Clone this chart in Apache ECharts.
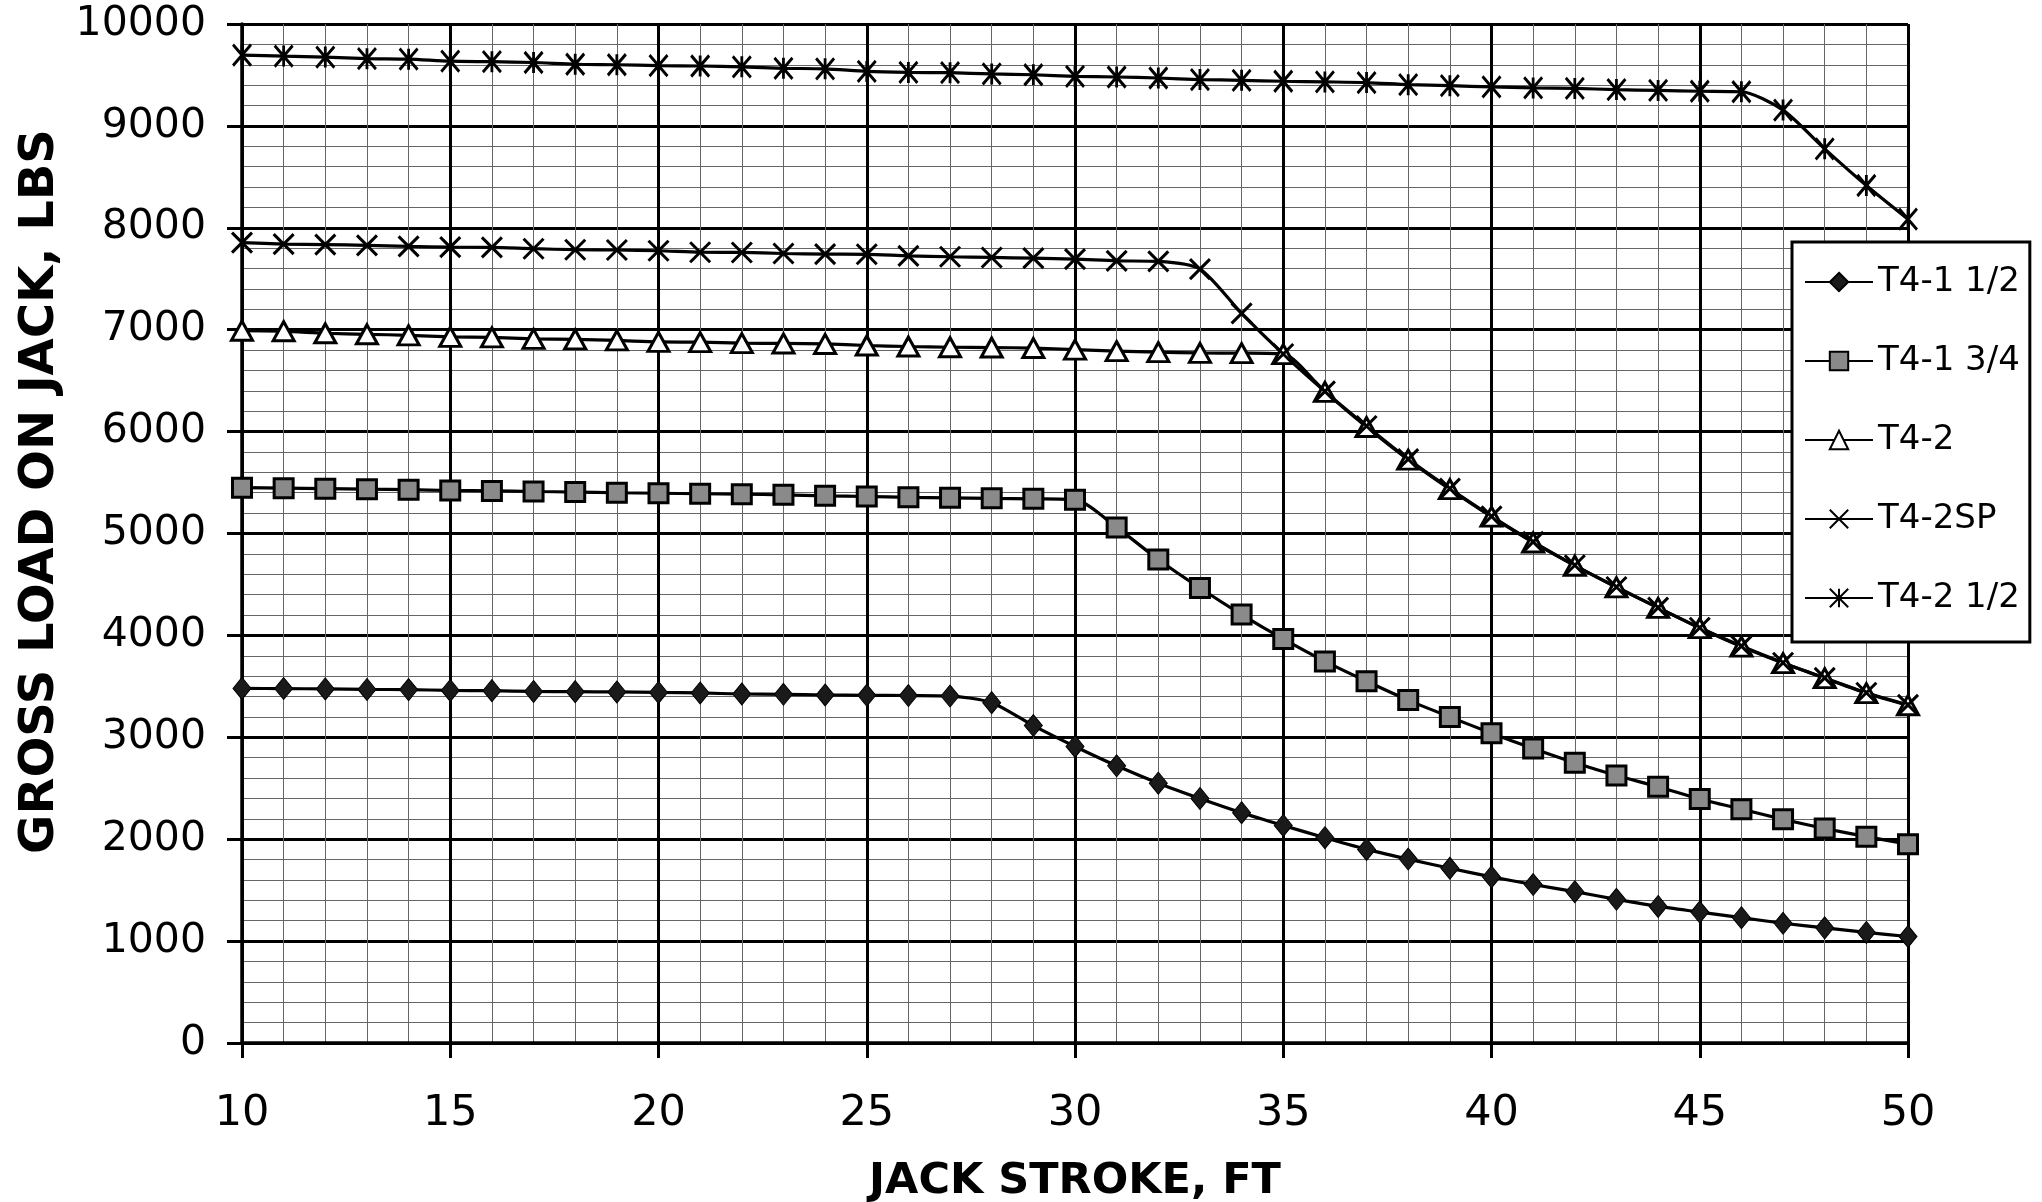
<!DOCTYPE html>
<html>
<head>
<meta charset="utf-8">
<title>Jack load vs stroke</title>
<script src="https://cdn.jsdelivr.net/npm/echarts@6/dist/echarts.min.js"></script>
<style>
  html, body { margin: 0; padding: 0; background: #fff; }
  #chart { width: 2042px; height: 1202px; }
</style>
</head>
<body>
<div id="chart"></div>
<script>
// Jack stroke (ft), one reading per foot
const stroke = [10,11,12,13,14,15,16,17,18,19,20,21,22,23,24,25,26,27,28,29,30,
                31,32,33,34,35,36,37,38,39,40,41,42,43,44,45,46,47,48,49,50];

// Gross load on jack (lbs) for each jack model
const t4_1_half = [3480,3478,3475,3470,3468,3460,3458,3450,3448,3445,3440,3435,3425,3422,3415,3412,3410,3405,3340,3115,2910,
                   2720,2550,2400,2260,2135,2015,1900,1805,1715,1630,1555,1485,1410,1340,1285,1230,1175,1130,1085,1045];
const t4_1_3q  = [5450,5445,5440,5435,5430,5422,5418,5412,5407,5400,5395,5390,5385,5380,5370,5363,5355,5350,5345,5340,5332,
                   5060,4745,4465,4205,3965,3745,3550,3365,3200,3040,2890,2750,2625,2515,2395,2295,2195,2105,2025,1950];
const t4_2     = [6990,6985,6965,6955,6945,6930,6925,6910,6905,6895,6880,6878,6868,6865,6860,6845,6835,6828,6825,6820,6805,
                   6790,6780,6772,6770,6760,6390,6045,5725,5435,5165,4912,4684,4472,4270,4072,3890,3728,3580,3433,3315];
const t4_2sp   = [7855,7840,7835,7828,7818,7810,7808,7795,7785,7782,7775,7760,7758,7748,7742,7740,7725,7716,7709,7702,7693,
                   7676,7670,7595,7160,6761,6395,6055,5730,5440,5168,4918,4688,4475,4272,4075,3895,3732,3583,3437,3318];
const t4_2_half= [9695,9685,9675,9660,9655,9635,9630,9622,9605,9600,9592,9588,9580,9565,9560,9535,9525,9522,9510,9502,9486,
                   9480,9470,9455,9447,9438,9432,9425,9405,9395,9382,9373,9368,9356,9348,9340,9335,9155,8775,8415,8085];

const seriesNames = ['T4-1 1/2', 'T4-1 3/4', 'T4-2', 'T4-2SP', 'T4-2 1/2'];
const xTitle = 'JACK STROKE, FT';
const yTitle = 'GROSS LOAD ON JACK, LBS';

const FONT = 'DejaVu Sans';
const pair = (ys) => stroke.map((x, i) => [x, ys[i]]);

// marker shapes drawn as stroked paths
const SYM_X = 'path://M0,0L10,10M10,0L0,10';
const SYM_AST = 'path://M0,0L10,12M10,0L0,12M5,0L5,12';

const lineBase = { color: '#000', width: 3.2 };

function makeSeries(name, data, symbol, size, itemStyle) {
  return {
    name, type: 'line', data: pair(data),
    smooth: 0.25,
    symbol, symbolSize: size,
    lineStyle: lineBase,
    itemStyle,
    emphasis: { disabled: true },
    animation: false
  };
}

const chart = echarts.init(document.getElementById('chart'), null, { renderer: 'canvas' });

const axisCommon = {
  axisLine: { show: true, onZero: false, lineStyle: { color: '#000', width: 3.5 } },
  axisTick: { show: true, length: 15, lineStyle: { color: '#000', width: 3 } },
  minorTick: { show: false, splitNumber: 5 },
  splitLine: { show: true, lineStyle: { color: '#000', width: 3 } },
  minorSplitLine: { show: true, lineStyle: { color: '#666', width: 1 } }
};

chart.setOption({
  backgroundColor: '#fff',
  animation: false,
  grid: { left: 242, right: 134, top: 24, bottom: 159, containLabel: false, outerBoundsMode: 'none' },
  xAxis: Object.assign({}, axisCommon, {
    type: 'value', min: 10, max: 50, interval: 5,
    name: xTitle, nameLocation: 'middle', nameGap: 117,
    nameTextStyle: { fontFamily: FONT, fontWeight: 'bold', fontSize: 43, color: '#000' },
    axisLabel: { margin: 49, fontFamily: FONT, fontSize: 43, color: '#000',
                 formatter: (v) => String(v) }
  }),
  yAxis: Object.assign({}, axisCommon, {
    type: 'value', min: 0, max: 10000, interval: 1000,
    name: yTitle, nameLocation: 'middle', nameGap: 171, nameRotate: 90,
    nameTextStyle: { fontFamily: FONT, fontWeight: 'bold', fontSize: 48, color: '#000',
                     padding: [0, 0, 0, 84] },
    axisLabel: { margin: 36, fontFamily: FONT, fontSize: 41, color: '#000',
                 formatter: (v) => String(v) }
  }),
  legend: {
    orient: 'vertical', left: 1792, top: 242,
    backgroundColor: '#fff', borderColor: '#000', borderWidth: 3,
    padding: [20, 10, 24, 12],
    itemWidth: 68, itemHeight: 23, itemGap: 39,
    textStyle: { fontFamily: FONT, fontSize: 34, color: '#000', lineHeight: 40 },
    data: seriesNames
  },
  series: [
    makeSeries(seriesNames[0], t4_1_half, 'diamond', [18, 22],
      { color: '#1a1a1a', borderColor: '#000', borderWidth: 1 }),
    makeSeries(seriesNames[1], t4_1_3q, 'rect', [19, 19],
      { color: '#8a8a8a', borderColor: '#000', borderWidth: 3 }),
    makeSeries(seriesNames[2], t4_2, 'triangle', [21, 19],
      { color: '#fff', borderColor: '#000', borderWidth: 3 }),
    makeSeries(seriesNames[3], t4_2sp, SYM_X, [20, 20],
      { color: 'transparent', borderColor: '#000', borderWidth: 3 }),
    makeSeries(seriesNames[4], t4_2_half, SYM_AST, [18, 21],
      { color: 'transparent', borderColor: '#000', borderWidth: 3 })
  ]
});
</script>
</body>
</html>
